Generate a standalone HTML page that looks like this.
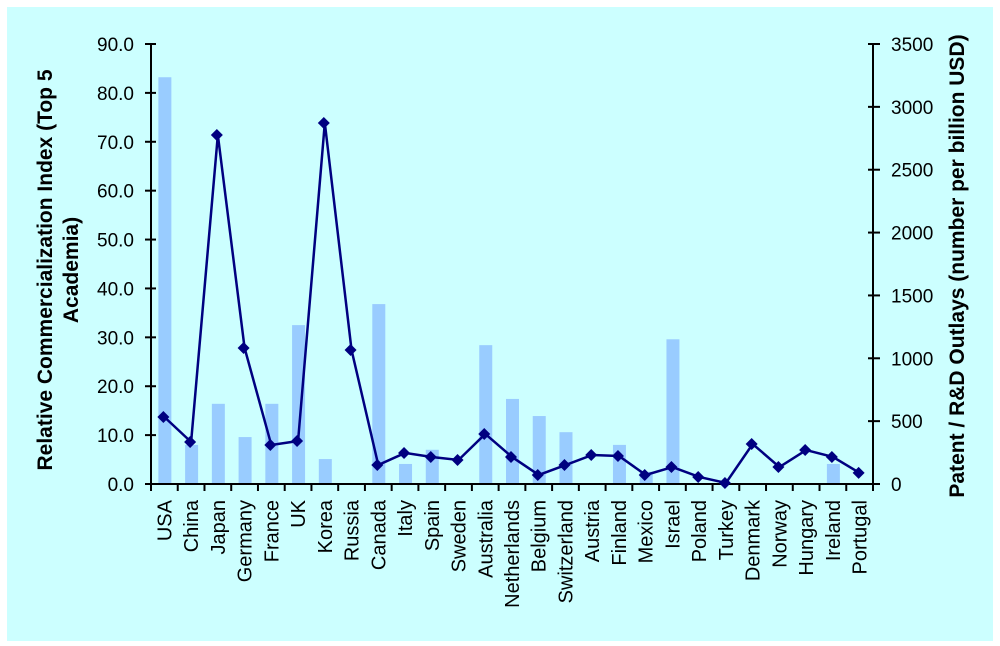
<!DOCTYPE html>
<html><head><meta charset="utf-8"><style>
html,body{margin:0;padding:0;background:#fff;width:1000px;height:646px;overflow:hidden}
svg{display:block;font-family:"Liberation Sans",Arial,sans-serif}
</style></head><body>
<svg id="chart" width="1000" height="646">
<rect x="7" y="7" width="986" height="634" fill="#ccffff"/>
<g id="g"></g>
</svg>
<script>
const categories=["USA","China","Japan","Germany","France","UK","Korea","Russia","Canada","Italy","Spain","Sweden","Australia","Netherlands","Belgium","Switzerland","Austria","Finland","Mexico","Israel","Poland","Turkey","Denmark","Norway","Hungary","Ireland","Portugal"];
const indexValues=[83.2,8.0,16.4,9.6,16.4,32.5,5.1,0,36.8,4.1,7.0,0,28.4,17.4,13.9,10.6,0,8.0,2.5,29.6,0,0,0,0,0,4.1,0];
const patentValues=[533,334,2776,1082,310,342,2872,1066,151,247,215,191,398,215,72,151,231,223,72,135,56,8,318,135,270,215,88];
const leftTicks=["0.0","10.0","20.0","30.0","40.0","50.0","60.0","70.0","80.0","90.0"];
const rightTicks=["0","500","1000","1500","2000","2500","3000","3500"];
const NS="http://www.w3.org/2000/svg";
const g=document.getElementById('g');
const X0=151,X1=873,Y0=484,Y1=44;
const slot=(X1-X0)/categories.length;
const yL=v=>Y0-(v/90)*(Y0-Y1);
const yR=v=>Y0-(v/3500)*(Y0-Y1);
const xC=i=>X0+slot*(i+0.5);
function mk(t,a,txt){const e=document.createElementNS(NS,t);for(const k in a)e.setAttribute(k,a[k]);if(txt!=null)e.textContent=txt;g.appendChild(e);return e;}
indexValues.forEach((v,i)=>{if(v<=0)return;
 const r=mk('rect',{x:xC(i)-6,y:yL(v),width:13,height:Y0-yL(v),fill:'#99ccff'});
 
 });
const ax=mk('path',{d:`M${X0},${Y1}V${Y0}H${X1}V${Y1}`,stroke:'#000','stroke-width':2,fill:'none'});


leftTicks.forEach((t,i)=>{const y=yL(+t);
 mk('line',{x1:X0-6,x2:X0+5,y1:y,y2:y,stroke:'#000','stroke-width':2});
 const e=mk('text',{x:134,y:y+7,'text-anchor':'end','font-size':19},t);
 
 });
rightTicks.forEach((t,i)=>{const y=yR(+t);
 mk('line',{x1:X1-5,x2:X1+7,y1:y,y2:y,stroke:'#000','stroke-width':2});
 const e=mk('text',{x:891,y:y+7,'font-size':19},t);
 
 });
for(let i=0;i<=categories.length;i++){const x=X0+slot*i;mk('line',{x1:x,x2:x,y1:Y0,y2:Y0+7,stroke:'#000','stroke-width':2});}
categories.forEach((c,i)=>{const x=xC(i)+7,y=500;
 const e=mk('text',{x:x,y:y,'text-anchor':'end','font-size':20,transform:`rotate(-90 ${x} ${y})`},c);
 
 });
const pts=patentValues.map((v,i)=>xC(i)+','+yR(v)).join(' ');
const pl=mk('polyline',{points:pts,fill:'none',stroke:'#000080','stroke-width':2.5});


patentValues.forEach((v,i)=>{const x=xC(i)-1,y=yR(v);
 const p=mk('path',{d:`M${x},${y-6}L${x+6},${y}L${x},${y+6}L${x-6},${y}Z`,fill:'#000080'});
 
 });
let t=mk('text',{x:0,y:0,'text-anchor':'middle','font-size':21,'font-weight':'bold',transform:'translate(52,270) rotate(-90)'},'Relative Commercialization Index (Top 5');


t=mk('text',{x:0,y:0,'text-anchor':'middle','font-size':21,'font-weight':'bold',transform:'translate(78,270) rotate(-90)'},'Academia)');


t=mk('text',{x:0,y:0,'text-anchor':'middle','font-size':21,'font-weight':'bold',transform:'translate(964,266) rotate(-90)'},'Patent / R&D Outlays (number per billion USD)');


</script>
</body></html>
